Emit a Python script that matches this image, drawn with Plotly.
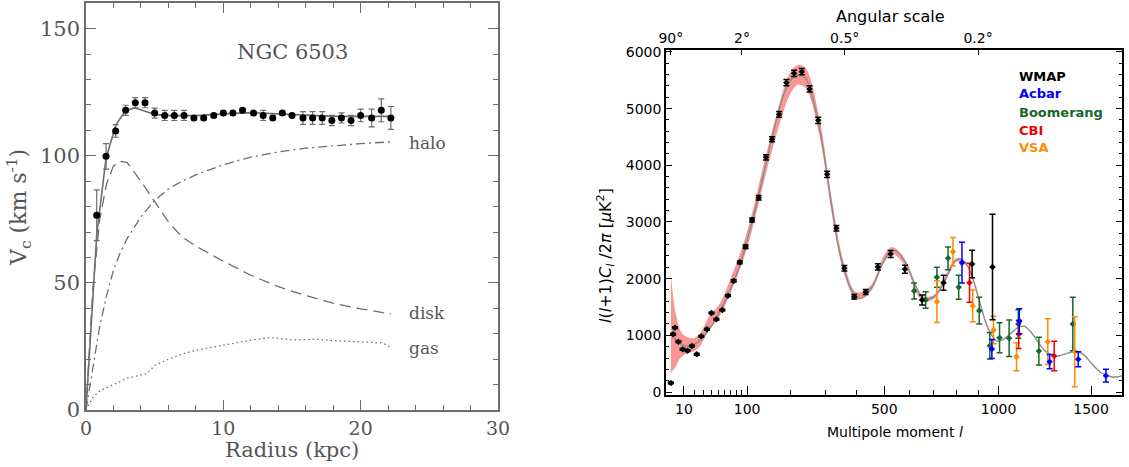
import numpy as np
import plotly.graph_objects as go

# ---------------- Left panel: NGC 6503 rotation curve ----------------
r_obs = [0.78, 1.46, 2.16, 2.89, 3.59, 4.30, 5.00, 5.73, 6.43, 7.14, 7.86, 8.57, 9.30, 10.0, 10.7, 11.4,
         12.2, 12.9, 13.6, 14.3, 15.0, 15.8, 16.5, 17.2, 17.9, 18.6, 19.3, 20.0, 20.8, 21.5, 22.2]
v_obs = [76.6, 99.8, 109.8, 117.9, 120.9, 120.9, 116.8, 115.9, 115.9, 115.9, 114.9, 114.9, 115.9, 116.8, 116.8, 117.9,
         116.8, 115.9, 114.9, 116.8, 115.9, 114.9, 114.9, 114.9, 113.9, 114.9, 113.9, 115.9, 114.9, 117.9, 114.9]
v_err = [10, 5, 2.5, 2, 2, 2, 2, 2, 2, 2, 0.8, 0.8, 0.8, 0.8, 0.8, 0.8,
         0.8, 2, 0.8, 0.8, 0.8, 2.5, 2.5, 2.5, 2, 2, 2, 2.5, 3.5, 4.5, 4.5]

r_fit = [0, 0.78, 1.46, 2.16, 2.89, 3.59, 4.3, 5.0, 6, 8, 10, 12, 14, 16, 18, 20, 22.2]
v_fit = [0, 69, 99, 112, 118, 118.8, 117.5, 116.3, 115.8, 115.8, 116.5, 117, 116.5, 116, 115.5, 115.5, 115.5]

r_comp = [0, 0.5, 1.0, 1.5, 2.0, 2.5, 3.0, 4.0, 5.0, 6.0, 7.0, 8.0, 10, 12, 14, 16, 18, 20, 22.2]
v_disk = [0, 48, 75, 89, 96, 97.8, 97.3, 90, 82, 74, 68, 64.5, 58.5, 53, 48.5, 45, 42, 39.8, 37.8]
v_halo = [0, 17, 33, 45, 55, 62, 67.5, 76, 82.5, 87, 90, 92.5, 96.5, 99.5, 101.5, 103, 104, 104.8, 105.5]

r_gas = [0, 0.5, 1, 2, 3, 4, 4.4, 5, 6, 7, 8, 10, 12, 13.4, 14, 15, 16, 17, 18, 19, 20, 21, 21.6, 22.2]
v_gas = [0, 5, 7.5, 10, 12.5, 13.8, 14.2, 17.5, 20, 22, 23.5, 25.5, 27.5, 28.5, 28.2, 27.6, 27.7, 27.8, 27.3, 27,
         26.8, 26.5, 26.4, 24.5]

# ---------------- Right panel: CMB power spectrum ----------------
POW = 0.6  # axis is linear in l**0.6

model_l = [2, 3, 4, 5, 6, 8, 10, 13, 16, 20, 25, 30, 40, 50, 60, 70, 80, 90, 100, 120, 140, 160, 180, 200, 220,
           240, 260, 280, 300, 320, 340, 360, 380, 400, 410, 430, 460, 490, 520, 540, 560, 590, 620, 650, 670,
           700, 740, 780, 800, 820, 850, 880, 910, 940, 970, 990, 1020, 1060, 1100, 1130, 1160, 1200, 1240,
           1280, 1320, 1370, 1420, 1460, 1510, 1560, 1620, 1660, 1700]
model_v = [1050, 990, 940, 900, 870, 840, 820, 810, 820, 850, 900, 980, 1160, 1380, 1590, 1830, 2080, 2360,
           2680, 3330, 4030, 4680, 5200, 5500, 5590, 5540, 5200, 4680, 3980, 3220, 2550, 2130, 1820, 1680,
           1650, 1690, 1900, 2230, 2460, 2500, 2440, 2220, 1910, 1680, 1640, 1680, 1900, 2220, 2330, 2350,
           2230, 1950, 1560, 1200, 980, 900, 920, 1030, 1140, 1160, 1080, 900, 730, 650, 640, 690, 720, 650,
           480, 340, 270, 270, 300]

band_l = [2, 3, 4, 5, 7, 10, 14, 18, 25, 38, 50, 74, 100, 150, 200, 220, 240, 280, 320, 360, 400, 450, 500,
          530, 580, 650, 700, 800, 850]
band_lo = [330, 390, 430, 480, 590, 650, 700, 712, 800, 1120, 1300, 1860, 2540, 4150, 5270, 5420, 5370, 4550,
           3100, 2050, 1640, 1780, 2300, 2440, 2230, 1620, 1640, 2300, 2220]
band_hi = [2090, 1700, 1450, 1300, 1100, 1000, 960, 947, 1020, 1360, 1520, 2120, 2830, 4480, 5650, 5770, 5720,
           4850, 3350, 2230, 1760, 1880, 2420, 2560, 2330, 1700, 1710, 2360, 2270]

wmap_l = [2, 3, 4, 6, 9, 13, 17, 22, 27, 34, 40, 47, 56, 65, 75, 86, 97, 110, 124, 140, 154, 171, 189, 209,
          230, 252, 277, 304, 333, 359, 392, 432, 476, 524, 580, 650, 742, 872, 970]
wmap_v = [160, 1018, 1135, 888, 753, 729, 812, 665, 983, 1106, 1394, 1283, 1447, 1700, 1959, 2288, 2564, 3035,
          3429, 4141, 4459, 4900, 5458, 5624, 5652, 5347, 4794, 3842, 2889, 2183, 1682, 1765, 2206, 2435, 2165,
          1623, 1929, 2259, 2206]
wmap_e = [15, 15, 15, 15, 15, 15, 15, 15, 15, 15, 15, 15, 15, 15, 20, 25, 30, 35, 40, 45, 45, 50, 55, 55,
          55, 55, 55, 55, 50, 50, 40, 45, 55, 60, 70, 88, 132, 244, 930]

acbar_l = [825, 967, 1105, 1266, 1426, 1588]
acbar_v = [2282, 759, 1250, 535, 577, 288]
acbar_e = [360, 168, 220, 126, 132, 112]

boom_l = [617, 665, 713, 762, 810, 906, 957, 1005, 1053, 1100, 1208, 1395]
boom_v = [1782, 1623, 2024, 2359, 1847, 1435, 817, 958, 948, 1200, 723, 1200]
boom_e = [141, 147, 176, 200, 212, 235, 235, 265, 323, 250, 245, 470]

cbi_l = [860, 1102, 1291]
cbi_v = [1929, 1018, 635]
cbi_e = [344, 250, 259]

vsa_l = [713, 784, 875, 975, 1091, 1256, 1406]
vsa_v = [1594, 2476, 1518, 1094, 623, 888, 711]
vsa_e = [368, 250, 280, 241, 247, 403, 618]

bottom_ticks = [10, 100, 500, 1000, 1500]
bottom_minor = [20, 30, 40, 50, 60, 70, 80, 90, 200, 300, 400, 600, 700, 800, 900]
top_ticks_l = [2, 90, 360, 900]
top_ticks_txt = ["90°", "2°", "0.5°", "0.2°"]

def u(l):
    return np.power(np.asarray(l, dtype=float), POW)

W, H = 1129, 467
def px(x):
    return x / W
def py(y):
    return (H - y) / H

GRAY = "#6e6e6e"
SERIF = "DejaVu Serif"
SANS = "DejaVu Sans"

fig = go.Figure()

# left panel traces
fig.add_trace(go.Scatter(x=r_gas, y=v_gas, mode="lines", line=dict(color=GRAY, width=1.3, dash="1.5px,3px"),
                         xaxis="x", yaxis="y", hoverinfo="skip"))
fig.add_trace(go.Scatter(x=r_comp, y=v_halo, mode="lines", line=dict(color=GRAY, width=1.3, dash="9px,4px,2px,4px"),
                         xaxis="x", yaxis="y", hoverinfo="skip"))
fig.add_trace(go.Scatter(x=r_comp, y=v_disk, mode="lines", line=dict(color=GRAY, width=1.3, dash="11px,6px"),
                         xaxis="x", yaxis="y", hoverinfo="skip"))
fig.add_trace(go.Scatter(x=r_fit, y=v_fit, mode="lines", line=dict(color=GRAY, width=1.6),
                         xaxis="x", yaxis="y", hoverinfo="skip"))
fig.add_trace(go.Scatter(x=r_obs, y=v_obs, mode="markers",
                         marker=dict(color="black", size=7, symbol="circle"),
                         error_y=dict(type="data", array=v_err, color=GRAY, thickness=1.2, width=3),
                         xaxis="x", yaxis="y"))

# right panel traces
fig.add_trace(go.Scatter(x=u(band_l), y=band_lo, mode="lines", line=dict(width=0, shape="spline", color="rgba(0,0,0,0)"),
                         xaxis="x2", yaxis="y2", hoverinfo="skip"))
fig.add_trace(go.Scatter(x=u(band_l), y=band_hi, mode="lines", line=dict(width=0, shape="spline", color="rgba(0,0,0,0)"),
                         fill="tonexty", fillcolor="rgb(248,150,148)",
                         xaxis="x2", yaxis="y2", hoverinfo="skip"))
fig.add_trace(go.Scatter(x=u(model_l), y=model_v, mode="lines", line=dict(color="#8c8c8c", width=1.4, shape="spline"),
                         xaxis="x2", yaxis="y2", hoverinfo="skip"))

series = [
    (boom_l, boom_v, boom_e, "rgb(20,105,45)"),
    (vsa_l, vsa_v, vsa_e, "rgb(255,140,0)"),
    (cbi_l, cbi_v, cbi_e, "rgb(240,0,0)"),
    (acbar_l, acbar_v, acbar_e, "rgb(0,0,255)"),
    (wmap_l, wmap_v, wmap_e, "black"),
]
for ls, vs, es, col in series:
    fig.add_trace(go.Scatter(x=u(ls), y=vs, mode="markers",
                             marker=dict(color=col, size=5, symbol="diamond"),
                             error_y=dict(type="data", array=es, color=col, thickness=1.5, width=3),
                             xaxis="x2", yaxis="y2"))

# dummy to register top axis
fig.add_trace(go.Scatter(x=u([top_ticks_l[0]]), y=[None], mode="markers", xaxis="x3", yaxis="y2",
                         hoverinfo="skip", marker=dict(opacity=0)))

left_tickfont = dict(family=SERIF, size=19, color="#555")
right_tickfont = dict(family=SANS, size=14, color="black")

xr = [u(0.43).item(), u(1685).item()]

fig.update_layout(
    template="none",
    width=W, height=H, margin=dict(l=0, r=0, t=0, b=0, autoexpand=False),
    paper_bgcolor="white", plot_bgcolor="white", showlegend=False,
    xaxis=dict(domain=[px(86), px(498)], range=[0, 30], anchor="y", tickvals=[0, 10, 20, 30],
               ticks="inside", ticklen=10, tickwidth=1.2, tickcolor=GRAY, automargin=False,
               showline=True, linecolor=GRAY, linewidth=1.5, mirror="ticks",
               minor=dict(dtick=2, ticks="inside", ticklen=5, tickcolor=GRAY, tickwidth=1.2),
               tickfont=left_tickfont, showgrid=False, zeroline=False),
    yaxis=dict(domain=[py(410), py(3.3)], range=[0, 160], anchor="x", tickvals=[0, 50, 100, 150],
               ticks="inside", ticklen=10, tickwidth=1.2, tickcolor=GRAY, automargin=False,
               showline=True, linecolor=GRAY, linewidth=1.5, mirror="ticks",
               minor=dict(dtick=10, ticks="inside", ticklen=5, tickcolor=GRAY, tickwidth=1.2),
               tickfont=dict(family=SERIF, size=21, color="#555"), showgrid=False, zeroline=False),
    xaxis2=dict(domain=[px(666), px(1122)], range=xr, anchor="y2", automargin=False,
                tickvals=u(bottom_ticks), ticktext=[str(t) for t in bottom_ticks],
                ticks="inside", ticklen=9, tickwidth=1.3, tickcolor="black",
                minor=dict(tickvals=u(bottom_minor), ticks="inside", ticklen=5, tickcolor="black", tickwidth=1.3),
                showline=True, linecolor="black", linewidth=1.5,
                tickfont=right_tickfont, showgrid=False, zeroline=False),
    xaxis3=dict(overlaying="x2", side="top", anchor="y2", range=xr, automargin=False,
                tickvals=u(top_ticks_l), ticktext=top_ticks_txt,
                ticks="inside", ticklen=5, tickwidth=1.3, tickcolor="black",
                showline=True, linecolor="black", linewidth=1.5,
                tickfont=right_tickfont, showgrid=False, zeroline=False),
    yaxis2=dict(domain=[py(395), py(50)], range=[-53, 6035], anchor="x2", automargin=False,
                tickvals=[0, 1000, 2000, 3000, 4000, 5000, 6000],
                ticks="inside", ticklen=6, tickwidth=1.3, tickcolor="black",
                minor=dict(dtick=200, ticks="inside", ticklen=3, tickcolor="black", tickwidth=1.1),
                showline=True, linecolor="black", linewidth=1.5, mirror="ticks",
                tickfont=right_tickfont, showgrid=False, zeroline=False),
)

ann = []
def add_ann(text, x, y, xref="paper", yref="paper", xanchor="center", **kw):
    ann.append(dict(text=text, x=x, y=y, xref=xref, yref=yref, xanchor=xanchor, yanchor="middle",
                    showarrow=False, **kw))

# left panel texts
add_ann("Radius (kpc)", px(292), py(450), font=dict(family=SERIF, size=21, color="#555"))
add_ann("V<sub>c</sub> (km s<sup>-1</sup>)", px(19), py(208), textangle=-90,
        font=dict(family=SERIF, size=22, color="#555"))
add_ann("NGC 6503", 15.0, 140.8, xref="x", yref="y", font=dict(family=SERIF, size=21, color="#555"))
for txt, yy in [("halo", 104.9), ("disk", 38.1), ("gas", 24.3)]:
    add_ann(txt, 23.4, yy, xref="x", yref="y", xanchor="left", font=dict(family=SERIF, size=17, color="#555"))
# right panel texts
add_ann("Multipole moment <i>l</i>", px(895), py(432), font=dict(family=SANS, size=14, color="black"))
add_ann("Angular scale", px(891), py(16), font=dict(family=SANS, size=16, color="black"))
add_ann("<i>l</i>(<i>l</i>+1)<i>C</i><sub><i>l</i></sub> /2<i>π</i> [<i>μ</i>K<sup>2</sup>]",
        px(606), py(256), textangle=-90, font=dict(family=SANS, size=16, color="black"))
legend_items = [("WMAP", "black"), ("Acbar", "rgb(0,0,255)"), ("Boomerang", "rgb(20,105,45)"),
                ("CBI", "rgb(240,0,0)"), ("VSA", "rgb(255,140,0)")]
for i, (txt, col) in enumerate(legend_items):
    add_ann("<b>" + txt + "</b>", px(1017), py(76 + 18 * i), xanchor="left",
            font=dict(family=SANS, size=13, color=col))
fig.update_layout(annotations=ann)

fig.write_html("out.html")
